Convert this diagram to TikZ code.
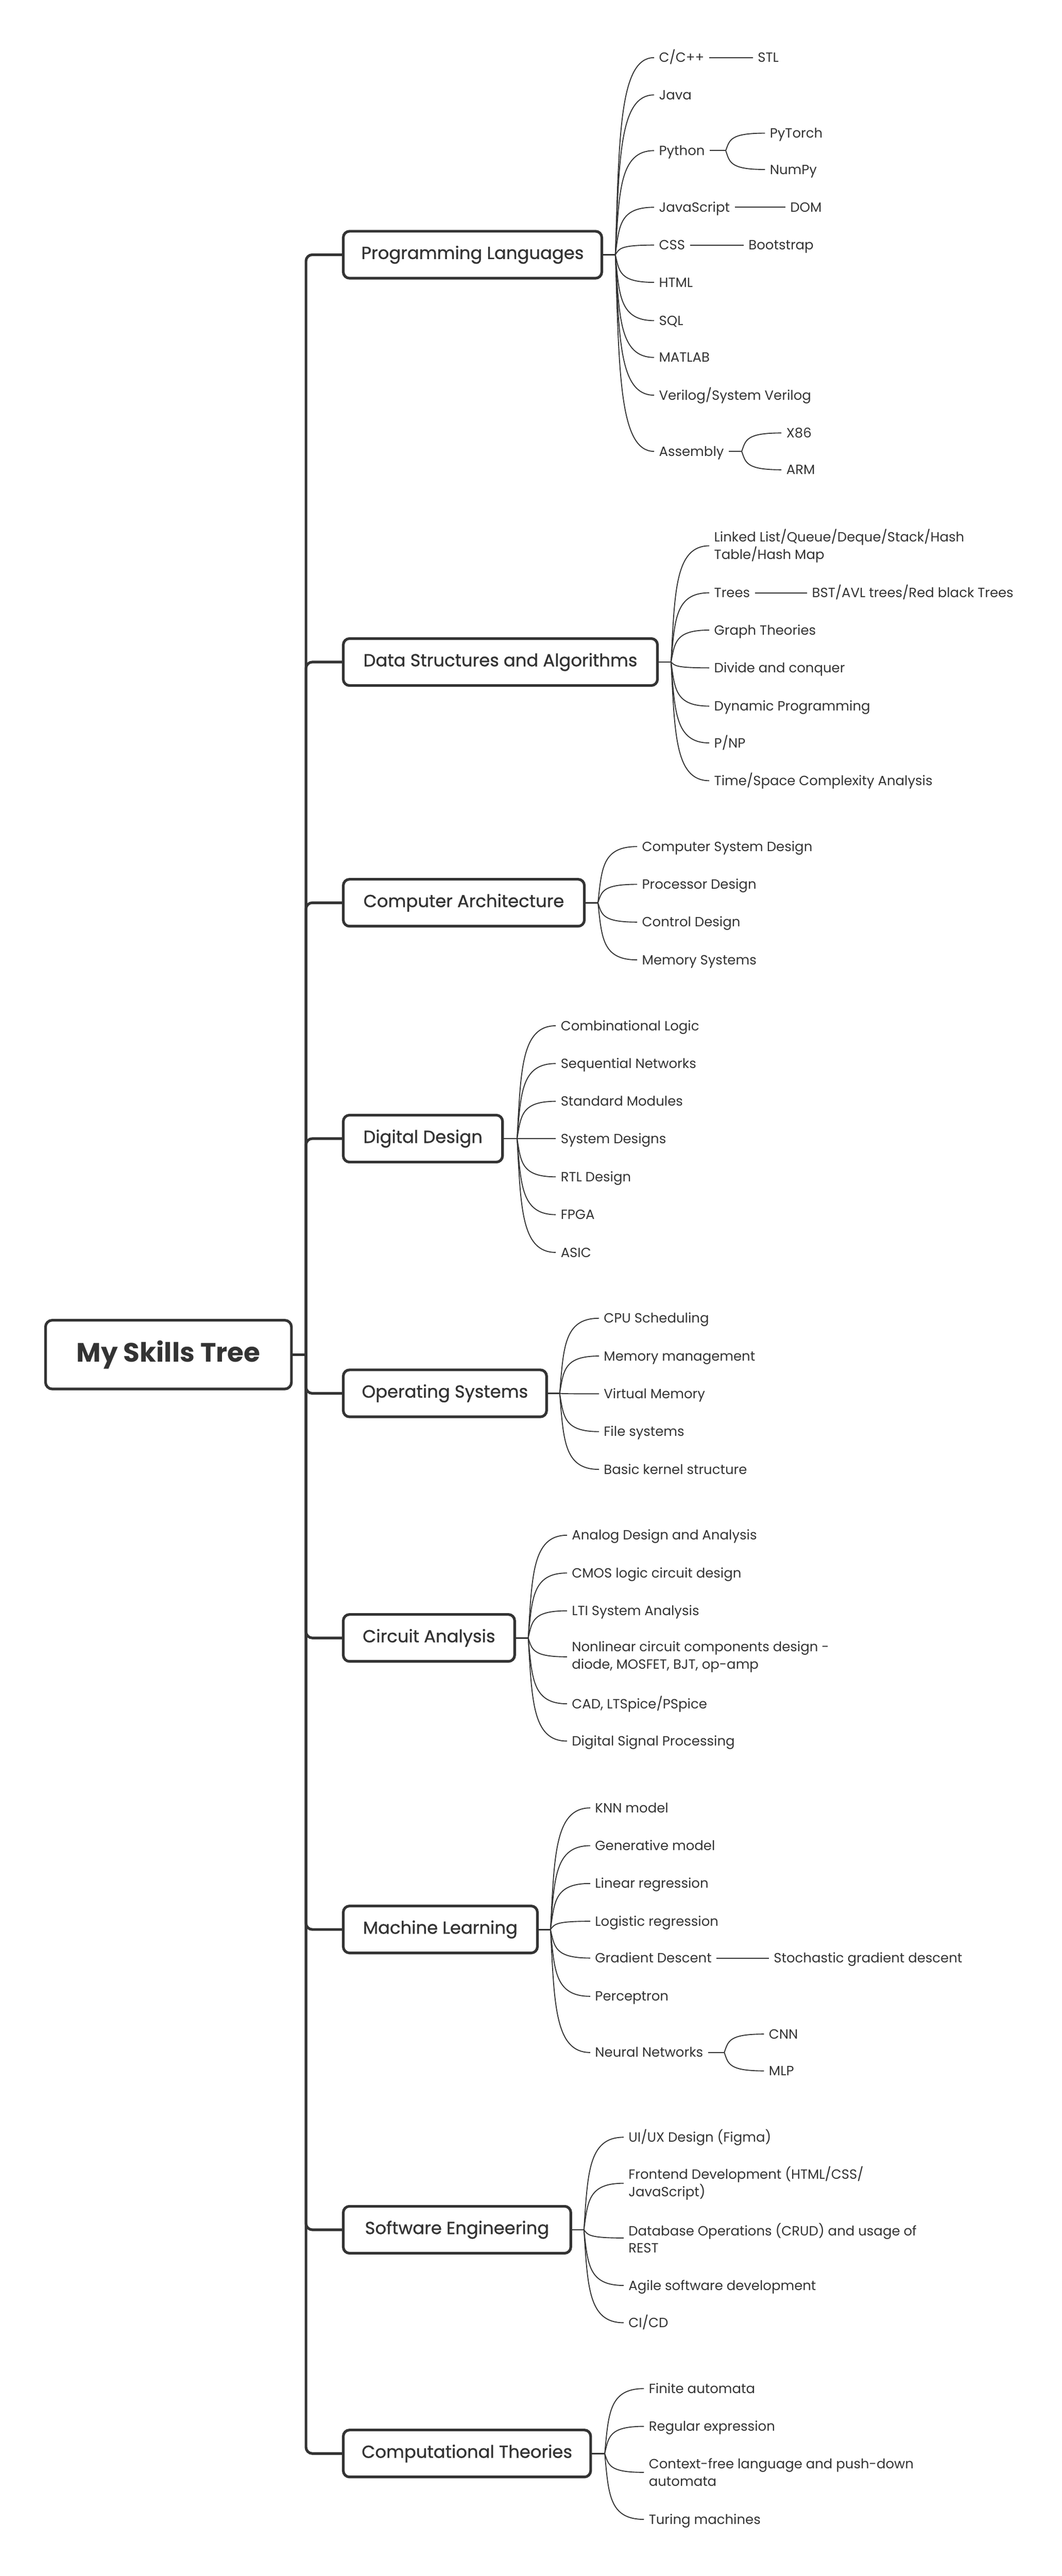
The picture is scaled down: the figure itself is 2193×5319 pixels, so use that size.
\documentclass[tikz,border=0pt]{standalone}
\usepackage{fontspec}
\setmainfont{Poppins}
\newfontfamily\medfont{Poppins}[FakeBold=1]
\usetikzlibrary{calc}
\definecolor{ink}{HTML}{333333}
\begin{document}
\begin{tikzpicture}[x=1pt,y=-1pt,
  rootbox/.style={draw=ink, line width=5.5pt, rounded corners=14pt, minimum width=508pt, minimum height=142pt, inner sep=0pt, text=ink, font=\fontsize{55}{60}\selectfont\bfseries},
  topic/.style={draw=ink, fill=white, line width=5.5pt, rounded corners=13pt, minimum height=97pt, inner sep=0pt, text=ink, font=\medfont\fontsize{36}{42}\selectfont},
  leaf/.style={anchor=west, inner xsep=10pt, inner ysep=0pt, text=ink, font=\fontsize{27.6}{36}\selectfont, text height=26.3pt, text depth=7pt},
  leaftwo/.style={anchor=west, inner xsep=10pt, inner ysep=0pt, text=ink, font=\fontsize{27.6}{36}\selectfont, align=left},
  trunk/.style={draw=ink, line width=5.5pt, rounded corners=13pt},
  stem/.style={draw=ink, line width=3pt},
  twig/.style={draw=ink, line width=2pt},
  fan/.style={to path={let \p1=(\tikztostart), \p2=(\tikztotarget) in .. controls ({\x1+0.1*(\x2-\x1)},{\y1+0.6*(\y2-\y1)}) and ({\x1+0.1*(\x2-\x1)},\y2) .. (\tikztotarget)}}
]
\fill[white] (0,0) rectangle (2193,5319);
\useasboundingbox (0,0) rectangle (2193,5319);

% root and topics
\node[rootbox] (root) at (348,2797) {My Skills Tree};
\node[topic, minimum width=534pt] (pl) at (976,526) {Programming Languages};
\node[topic, minimum width=649pt] (ds) at (1033.5,1367) {Data Structures and Algorithms};
\node[topic, minimum width=498pt] (ca) at (958,1864) {Computer Architecture};
\node[topic, minimum width=329pt] (dd) at (873.5,2351) {Digital Design};
\node[topic, minimum width=420pt] (os) at (919,2877) {Operating Systems};
\node[topic, minimum width=354pt] (ci) at (886,3382) {Circuit Analysis};
\node[topic, minimum width=401pt] (ml) at (909.5,3984) {Machine Learning};
\node[topic, minimum width=470pt] (se) at (944,4604) {Software Engineering};
\node[topic, minimum width=511pt] (ct) at (964.5,5066) {Computational Theories};

\coordinate (tj) at (632,2797);
\draw[trunk] (root.east) -- (tj);
\foreach \b in {pl,ds,ca,dd,os,ci,ml,se,ct} \draw[trunk] (tj) |- (\b.west);

% fan origins
\coordinate (plo) at (1271,526);
\coordinate (dso) at (1386,1367);
\coordinate (cao) at (1235,1864);
\coordinate (ddo) at (1068,2351);
\coordinate (oso) at (1156,2877);
\coordinate (cio) at (1091,3382);
\coordinate (mlo) at (1137,3984);
\coordinate (seo) at (1206,4604);
\coordinate (cto) at (1249,5066);
\foreach \b in {pl,ds,ca,dd,os,ci,ml,se,ct} \draw[stem] (\b.east) -- (\b o);

% Programming Languages
\node[leaf] (cpp) at (1351,119) {C/C++};
\node[leaf] (java) at (1351,196) {Java};
\node[leaf] (py) at (1351,311) {Python};
\node[leaf] (js) at (1351,428) {JavaScript};
\node[leaf] (css) at (1351,506) {CSS};
\node[leaf] (html) at (1351,583) {HTML};
\node[leaf] (sql) at (1351,662) {SQL};
\node[leaf] (mat) at (1351,738) {MATLAB};
\node[leaf] (ver) at (1351,816) {Verilog/System Verilog};
\node[leaf] (asm) at (1351,932) {Assembly};
\foreach \c in {cpp,java,py,js,css,html,sql,mat,ver,asm} \draw[twig] (plo) to[fan] (\c.west);
\node[leaf] (stl) at (1555,119) {STL};
\node[leaf] (pyt) at (1580,275) {PyTorch};
\node[leaf] (nump) at (1580,350) {NumPy};
\node[leaf] (dom) at (1622,428) {DOM};
\node[leaf] (boot) at (1536,506) {Bootstrap};
\node[leaf] (x86) at (1614,894) {X86};
\node[leaf] (arm) at (1614,970) {ARM};
\coordinate (pyf) at (1499,311);
\coordinate (asf) at (1532,932);
\draw[twig] (cpp.east) -- (stl.west);
\draw[twig] (js.east) -- (dom.west);
\draw[twig] (css.east) -- (boot.west);
\draw[twig] (py.east) -- (pyf);
\draw[twig] (pyf) to[fan] (pyt.west);
\draw[twig] (pyf) to[fan] (nump.west);
\draw[twig] (asm.east) -- (asf);
\draw[twig] (asf) to[fan] (x86.west);
\draw[twig] (asf) to[fan] (arm.west);

% Data Structures and Algorithms
\node[leaftwo] (ll) at (1465,1127) {Linked List/Queue/Deque/Stack/Hash\\Table/Hash Map};
\node[leaf] (trees) at (1465,1224) {Trees};
\node[leaf] (graph) at (1465,1301) {Graph Theories};
\node[leaf] (dac) at (1465,1379) {Divide and conquer};
\node[leaf] (dyn) at (1465,1458) {Dynamic Programming};
\node[leaf] (pnp) at (1465,1534) {P/NP};
\node[leaf] (tsc) at (1465,1612) {Time/Space Complexity Analysis};
\foreach \c in {ll,trees,graph,dac,dyn,pnp,tsc} \draw[twig] (dso) to[fan] (\c.west);
\node[leaf] (bst) at (1667,1224) {BST/AVL trees/Red black Trees};
\draw[twig] (trees.east) -- (bst.west);

% Computer Architecture
\node[leaf] (csd) at (1316,1748) {Computer System Design};
\node[leaf] (prd) at (1316,1826) {Processor Design};
\node[leaf] (cod) at (1316,1904) {Control Design};
\node[leaf] (mes) at (1316,1982) {Memory Systems};
\foreach \c in {csd,prd,cod,mes} \draw[twig] (cao) to[fan] (\c.west);

% Digital Design
\node[leaf] (cl) at (1148,2118) {Combinational Logic};
\node[leaf] (sn) at (1148,2196) {Sequential Networks};
\node[leaf] (sm) at (1148,2274) {Standard Modules};
\node[leaf] (sd) at (1148,2351) {System Designs};
\node[leaf] (rtl) at (1148,2430) {RTL Design};
\node[leaf] (fpga) at (1148,2508) {FPGA};
\node[leaf] (asic) at (1148,2586) {ASIC};
\foreach \c in {cl,sn,sm,sd,rtl,fpga,asic} \draw[twig] (ddo) to[fan] (\c.west);

% Operating Systems
\node[leaf] (cpus) at (1237,2722) {CPU Scheduling};
\node[leaf] (mm) at (1237,2800) {Memory management};
\node[leaf] (vm) at (1237,2878) {Virtual Memory};
\node[leaf] (fs) at (1237,2956) {File systems};
\node[leaf] (bks) at (1237,3034) {Basic kernel structure};
\foreach \c in {cpus,mm,vm,fs,bks} \draw[twig] (oso) to[fan] (\c.west);

% Circuit Analysis
\node[leaf] (ada) at (1171,3170) {Analog Design and Analysis};
\node[leaf] (cmos) at (1171,3248) {CMOS logic circuit design};
\node[leaf] (lti) at (1171,3326) {LTI System Analysis};
\node[leaftwo] (ncc) at (1171,3421) {Nonlinear circuit components design -\\diode, MOSFET, BJT, op-amp};
\node[leaf] (cad) at (1171,3518) {CAD, LTSpice/PSpice};
\node[leaf] (dsp) at (1171,3595) {Digital Signal Processing};
\foreach \c in {ada,cmos,lti,ncc,cad,dsp} \draw[twig] (cio) to[fan] (\c.west);

% Machine Learning
\node[leaf] (knn) at (1219,3733) {KNN model};
\node[leaf] (gen) at (1219,3811) {Generative model};
\node[leaf] (lin) at (1219,3889) {Linear regression};
\node[leaf] (log) at (1219,3967) {Logistic regression};
\node[leaf] (gd) at (1219,4043) {Gradient Descent};
\node[leaf] (per) at (1219,4122) {Perceptron};
\node[leaf] (nn) at (1219,4238) {Neural Networks};
\foreach \c in {knn,gen,lin,log,gd,per,nn} \draw[twig] (mlo) to[fan] (\c.west);
\node[leaf] (sgd) at (1588,4043) {Stochastic gradient descent};
\node[leaf] (cnn) at (1578,4200) {CNN};
\node[leaf] (mlp) at (1578,4276) {MLP};
\coordinate (nnf) at (1496,4238);
\draw[twig] (gd.east) -- (sgd.west);
\draw[twig] (nn.east) -- (nnf);
\draw[twig] (nnf) to[fan] (cnn.west);
\draw[twig] (nnf) to[fan] (mlp.west);

% Software Engineering
\node[leaf] (ui) at (1288,4413) {UI/UX Design (Figma)};
\node[leaftwo] (fe) at (1288,4508) {Frontend Development (HTML/CSS/\\JavaScript)};
\node[leaftwo] (db) at (1288,4621) {Database Operations (CRUD) and usage of\\REST};
\node[leaf] (ag) at (1288,4719) {Agile software development};
\node[leaf] (ci) at (1288,4796) {CI/CD};
\foreach \c in {ui,fe,db,ag,ci} \draw[twig] (seo) to[fan] (\c.west);

% Computational Theories
\node[leaf] (fa) at (1330,4932) {Finite automata};
\node[leaf] (re) at (1330,5010) {Regular expression};
\node[leaftwo] (cfl) at (1330,5105) {Context-free language and push-down\\automata};
\node[leaf] (tm) at (1330,5202) {Turing machines};
\foreach \c in {fa,re,cfl,tm} \draw[twig] (cto) to[fan] (\c.west);
\end{tikzpicture}
\end{document}
